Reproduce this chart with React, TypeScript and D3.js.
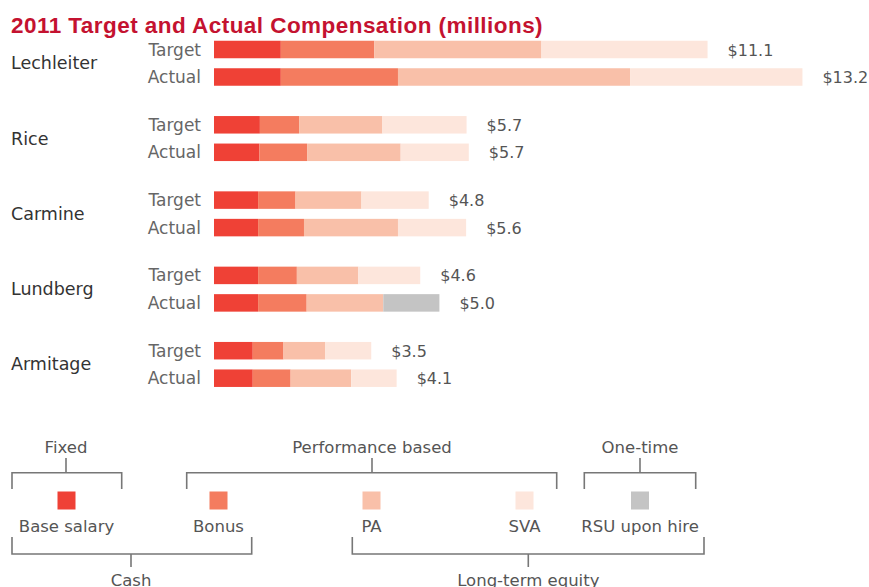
import React from "react";
import * as d3 from "d3";

const names = ["Lechleiter", "Rice", "Carmine", "Lundberg", "Armitage"];
const rowKinds = ["Target", "Actual"];
const components = ["Base salary", "Bonus", "PA", "SVA", "RSU upon hire"];
const compColors = ["#ef4136", "#f47c5f", "#f9c0a9", "#fde6dc", "#c4c4c4"];

const targetBase = [1.5, 1.03, 0.99, 0.99, 0.87];
const targetBonus = [2.1, 0.88, 0.84, 0.87, 0.69];
const targetPA = [3.75, 1.87, 1.48, 1.38, 0.94];
const targetSVA = [3.73, 1.89, 1.51, 1.39, 1.03];
const targetRSU = [0, 0, 0, 0, 0];

const actualBase = [1.5, 1.02, 0.99, 0.99, 0.87];
const actualBonus = [2.63, 1.07, 1.03, 1.09, 0.85];
const actualPA = [5.21, 2.1, 2.11, 1.72, 1.36];
const actualSVA = [3.87, 1.53, 1.53, 0, 1.02];
const actualRSU = [0, 0, 0, 1.26, 0];

const targetTotals = ["$11.1", "$5.7", "$4.8", "$4.6", "$3.5"];
const actualTotals = ["$13.2", "$5.7", "$5.6", "$5.0", "$4.1"];

const W = 869;
const H = 587;
const FONT = "'DejaVu Sans', sans-serif";

type Row = { name: string; kind: string; label: string; [k: string]: any };

const rows: Row[] = [];
names.forEach((n, i) => {
  rows.push({
    name: n, kind: "Target", label: targetTotals[i],
    "Base salary": targetBase[i], Bonus: targetBonus[i], PA: targetPA[i], SVA: targetSVA[i], "RSU upon hire": targetRSU[i],
  });
  rows.push({
    name: n, kind: "Actual", label: actualTotals[i],
    "Base salary": actualBase[i], Bonus: actualBonus[i], PA: actualPA[i], SVA: actualSVA[i], "RSU upon hire": actualRSU[i],
  });
});

export default function App() {
  const x = d3.scaleLinear().domain([0, 13.2]).range([214, 802]);
  const yGroup = d3.scalePoint<string>().domain(names).range([49.5, 350.7]);
  const yKind = d3.scalePoint<string>().domain(rowKinds).range([0, 27.5]);
  const color = d3.scaleOrdinal<string, string>().domain(components).range(compColors);
  const barH = 17.5;
  const stack = d3.stack<Row>().keys(components);
  const series = stack(rows);
  const yc = (r: Row) => (yGroup(r.name) as number) + (yKind(r.kind) as number);
  const total = (r: Row) => components.reduce((s, k) => s + r[k], 0);

  const legendX: Record<string, number> = {
    "Base salary": 66.5, Bonus: 218.5, PA: 371.5, SVA: 524.5, "RSU upon hire": 640,
  };
  const topBrackets = [
    { label: "Fixed", x0: 12, x1: 121.7, stem: 66 },
    { label: "Performance based", x0: 186.7, x1: 556.7, stem: 372 },
    { label: "One-time", x0: 584.3, x1: 695.7, stem: 640 },
  ];
  const bottomBrackets = [
    { label: "Cash", x0: 12, x1: 251.7, stem: 131 },
    { label: "Long-term equity", x0: 352.3, x1: 704, stem: 528.3 },
  ];
  const bColor = "#777";

  return (
    <svg width={W} height={H} style={{ position: "absolute", left: 0, top: 0, background: "#fff" }}>
      <text x={11} y={33} fontFamily="'Liberation Sans', Arial, sans-serif" fontWeight="bold" fontSize={22.5} letterSpacing={0.45} fill="#c41230">
        2011 Target and Actual Compensation (millions)
      </text>
      {names.map((n) => (
        <text key={n} x={11} y={(yGroup(n) as number) + 13.75 + 6} fontFamily={FONT} fontSize={17.5} fill="#333">
          {n}
        </text>
      ))}
      {rows.map((r, i) => (
        <text key={"k" + i} x={201} y={yc(r) + 6} textAnchor="end" fontFamily={FONT} fontSize={17} fill="#666">
          {r.kind}
        </text>
      ))}
      {series.map((s) => (
        <g key={s.key} fill={color(s.key)}>
          {s.map((d, i) =>
            d[1] - d[0] > 0 ? (
              <rect key={i} x={x(d[0])} y={yc(d.data) - barH / 2} width={x(d[1]) - x(d[0])} height={barH} />
            ) : null
          )}
        </g>
      ))}
      {rows.map((r, i) => (
        <text key={"v" + i} x={x(total(r)) + 20} y={yc(r) + 6} fontFamily={FONT} fontSize={16} fill="#555">
          {r.label}
        </text>
      ))}
      {topBrackets.map((b) => (
        <g key={b.label}>
          <text x={b.stem} y={453} textAnchor="middle" fontFamily={FONT} fontSize={16.5} fill="#555">
            {b.label}
          </text>
          <path
            d={`M${b.x0},489 V472.7 H${b.x1} V489 M${b.stem},472.7 V458`}
            fill="none" stroke={bColor} strokeWidth={1.6}
          />
        </g>
      ))}
      {components.map((c) => (
        <g key={c}>
          <rect x={legendX[c] - 9} y={491.5} width={18} height={18} fill={color(c)} />
          <text x={legendX[c]} y={532} textAnchor="middle" fontFamily={FONT} fontSize={16.5} fill="#555">
            {c}
          </text>
        </g>
      ))}
      {bottomBrackets.map((b) => (
        <g key={b.label}>
          <path
            d={`M${b.x0},537 V554 H${b.x1} V537 M${b.stem},554 V567`}
            fill="none" stroke={bColor} strokeWidth={1.6}
          />
          <text x={b.stem} y={586} textAnchor="middle" fontFamily={FONT} fontSize={16.5} fill="#555">
            {b.label}
          </text>
        </g>
      ))}
    </svg>
  );
}
